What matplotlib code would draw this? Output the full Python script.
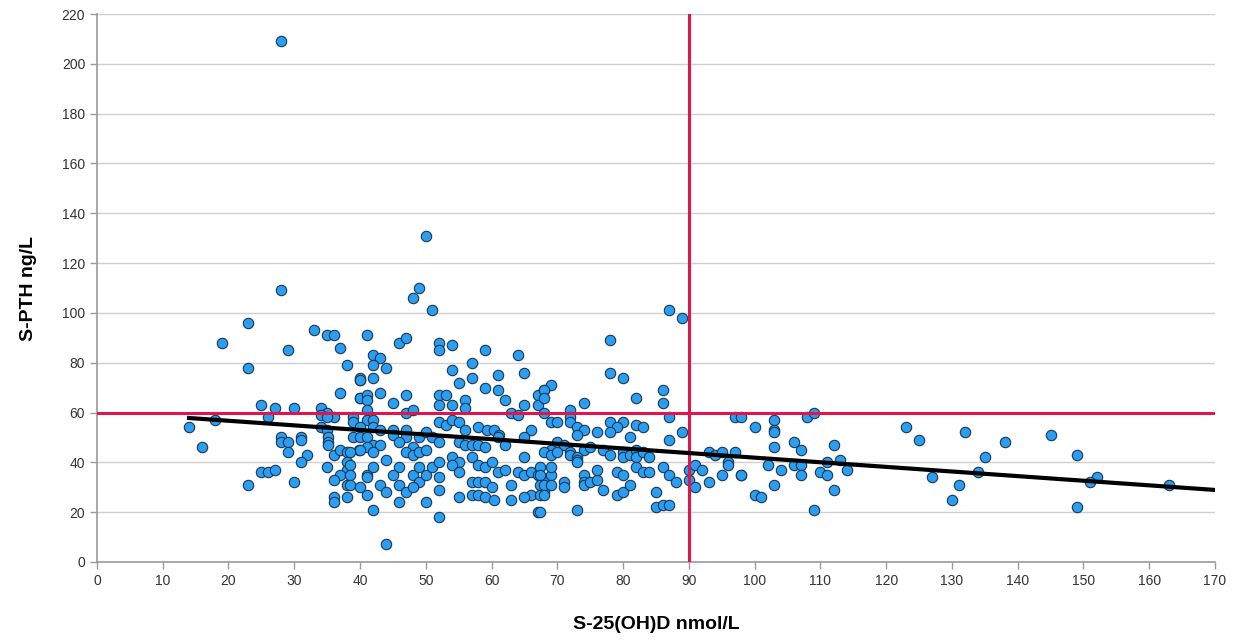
import numpy as np
import matplotlib
matplotlib.use('Agg')
import matplotlib.pyplot as plt

plt.rcParams['font.family'] = ['Liberation Sans', 'DejaVu Sans']

# S-25(OH)D (nmol/L) vs S-PTH (ng/L)
vit_d = [
    28, 50, 28, 49, 48, 51, 87, 89,
    23, 19, 29, 33, 35, 36, 37, 23, 38, 40, 37, 40,
    25, 27, 30, 34, 35, 34, 36, 35, 26, 18, 14, 39, 39,
    34, 35, 35.2, 35.2, 35.1, 39, 39.8, 28, 28, 31, 31, 29, 29, 32, 31, 16,
    36, 37, 38, 38, 38, 37, 36, 35, 25, 26, 27, 23, 30, 38, 36, 36, 38,
    41, 46, 47, 52, 52, 54, 59, 64, 42, 43, 42, 44, 57, 54, 65, 40, 40, 42,
    55, 57, 61, 59, 61, 43, 40, 41, 41, 45, 47, 52, 53, 52, 54, 56, 56,
    62, 65, 67, 68, 67, 41, 41, 47, 48, 52, 53, 54, 55,
    56, 58, 59.3, 60.3, 61.2, 63, 64, 66, 42, 40, 42, 43, 40, 41,
    45, 47, 47, 45, 49, 50, 51, 52, 46, 48, 42, 43, 41, 40, 42, 44,
    47, 48, 49, 50, 55, 56, 57, 58, 59, 61, 62, 65,
    38.5, 38.5, 38.5, 38.5, 41, 42, 41, 43, 44, 41, 40, 46, 46, 45,
    48, 49, 49, 50, 51, 52, 52, 47, 48, 46, 50, 52, 52, 44, 42,
    54, 55, 54, 55, 55, 57, 58, 59, 60, 61,
    57, 58, 59, 60, 57, 58, 59, 60.3,
    62, 63, 64, 65, 65, 66, 67, 66, 65, 63, 68, 68, 69, 67,
    78, 78, 80, 69, 68, 68, 74, 82, 86, 86, 72, 72, 72, 68, 69, 70, 87,
    78, 80, 79, 78, 82, 83, 73, 74, 73, 76, 81, 87, 89,
    70, 71, 69, 68, 69, 70, 72, 72, 74, 75, 73, 73, 73,
    77, 78, 80, 80, 81, 82, 82, 83, 84,
    69, 67.4, 67.4, 67.4, 68, 69, 67.4, 68, 67.4,
    71, 71, 74, 74, 74, 75, 76, 76, 77,
    79, 80, 79, 80, 81, 82, 83, 84, 85, 85, 86, 87, 86, 87, 88, 73,
    90, 90, 91, 91, 92, 93, 93, 94, 95, 95, 96, 97, 98, 97,
    98, 100, 103, 103, 103, 108, 109, 123, 125, 96, 98, 103,
    102, 104, 100, 101, 103, 106, 107, 106, 107, 107,
    110, 111, 111, 112, 113, 114, 112, 109, 127,
    132, 138, 145, 149, 135, 131, 130, 134, 152, 151, 149, 163,
]
pth = [
    209, 131, 109, 110, 106, 101, 101, 98,
    96, 88, 85, 93, 91, 91, 86, 78, 79, 73, 68, 66,
    63, 62, 62, 62, 60, 59, 58, 58, 58, 57, 54, 58, 56,
    54, 53, 50, 48, 47, 50, 45, 50, 48, 50, 49, 48, 44, 43, 40, 46,
    43, 45, 44, 40, 37, 35, 33, 38, 36, 36, 37, 31, 32, 31, 26, 24, 26,
    91, 88, 90, 88, 85, 87, 85, 83, 83, 82, 79, 78, 80, 77, 76, 74, 73, 74,
    72, 74, 75, 70, 69, 68, 66, 67, 65, 64, 67, 67, 67, 63, 63, 65, 62,
    65, 63, 67, 69, 63, 61, 57, 60, 61, 56, 55, 57, 56,
    53, 54, 53, 53, 51, 60, 59, 53, 57, 54, 54, 53, 50, 50,
    53, 53, 50, 51, 50, 52, 50, 48, 48, 46, 47, 47, 46, 45, 44, 41,
    44, 43, 44, 45, 48, 47, 47, 47, 46, 50, 47, 50,
    44, 39, 35, 31, 35, 38, 34, 31, 28, 27, 30, 38, 31, 35,
    35, 38, 32, 35, 38, 40, 34, 28, 30, 24, 24, 18, 29, 7, 21,
    42, 40, 39, 36, 26, 42, 39, 38, 40, 36,
    32, 32, 32, 30, 27, 27, 26, 25,
    37, 31, 36, 42, 35, 36, 35, 27, 26, 25, 32, 28, 35, 20,
    89, 76, 74, 71, 69, 66, 64, 66, 69, 64, 61, 58, 56, 60, 56, 56, 58,
    56, 56, 54, 52, 55, 54, 54, 53, 51, 52, 50, 49, 52,
    48, 47, 45, 44, 43, 44, 44, 43, 45, 46, 42, 41, 40,
    45, 43, 44, 42, 43, 45, 42, 44, 42,
    38, 38, 35, 31, 31, 31, 27, 27, 20,
    32, 30, 35, 32, 31, 32, 33, 37, 29,
    36, 35, 27, 28, 31, 38, 36, 36, 28, 22, 23, 23, 38, 35, 32, 21,
    37, 33, 39, 30, 37, 44, 32, 43, 44, 35, 40, 58, 35, 44,
    58, 54, 57, 53, 52, 58, 60, 54, 49, 39, 35, 46,
    39, 37, 27, 26, 31, 48, 45, 39, 39, 35,
    36, 35, 40, 47, 41, 37, 29, 21, 34,
    52, 48, 51, 43, 42, 31, 25, 36, 34, 32, 22, 31,
]

# fit line end points and reference cut-offs
fit_x = [14, 170]
fit_y = [57.8, 28.9]
cut_pth = 60
cut_vitd = 90

fig = plt.figure(figsize=(12.43, 6.4), dpi=100)
ax = fig.add_axes([0.078, 0.122, 0.8995, 0.856])

ax.set_xlim(0, 170)
ax.set_ylim(0, 220)
ax.set_xticks(np.arange(0, 171, 10))
ax.set_yticks(np.arange(0, 221, 20))
ax.grid(axis='y', color='#cfcfcf', linewidth=1)
ax.set_axisbelow(True)

ax.scatter(vit_d, pth, s=56, color='#2a9ef0', edgecolors='#1c3654',
           linewidths=0.8, zorder=3)
ax.axhline(cut_pth, color='#e0154c', linewidth=2.2, zorder=4)
ax.axvline(cut_vitd, color='#e0154c', linewidth=2.2, zorder=4)
ax.plot(fit_x, fit_y, color='black', linewidth=3, zorder=5)

for s in ['top', 'right']:
    ax.spines[s].set_visible(False)
for s in ['left', 'bottom']:
    ax.spines[s].set_color('#9a9a9a')
    ax.spines[s].set_linewidth(1.2)
ax.tick_params(colors='#9a9a9a', labelcolor='#333333', labelsize=10,
               length=5, width=1)

ax.set_xlabel('S-25(OH)D nmol/L', fontsize=14, fontweight='bold', labelpad=20)
ax.set_ylabel('S-PTH ng/L', fontsize=14, fontweight='bold', labelpad=18)

fig.savefig('out.png', dpi=100)
